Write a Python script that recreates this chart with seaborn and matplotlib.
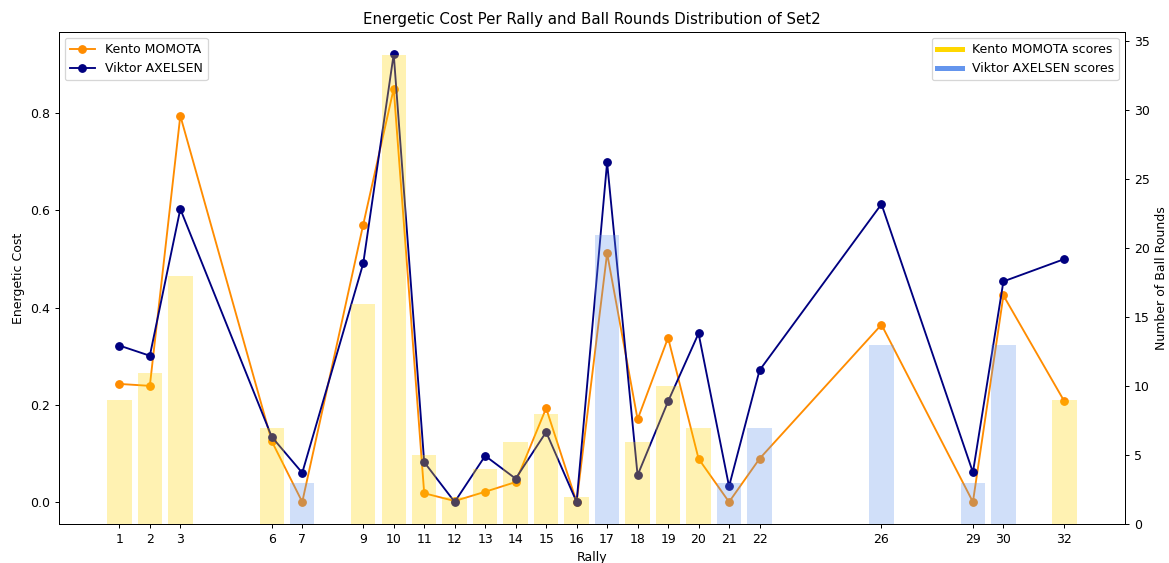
import matplotlib
matplotlib.use("Agg")
import matplotlib.pyplot as plt
from matplotlib.lines import Line2D
import seaborn as sns
import pandas as pd

rallies = [1, 2, 3, 6, 7, 9, 10, 11, 12, 13, 14, 15, 16, 17, 18, 19, 20, 21, 22, 26, 29, 30, 32]
kento_cost = [0.243, 0.239, 0.795, 0.125, 0.0, 0.571, 0.851, 0.018, 0.002, 0.021, 0.041, 0.193,
              0.0, 0.512, 0.170, 0.338, 0.089, 0.0, 0.089, 0.365, 0.0, 0.425, 0.207]
viktor_cost = [0.322, 0.301, 0.603, 0.134, 0.060, 0.491, 0.922, 0.082, 0.0, 0.095, 0.048, 0.144,
               0.0, 0.699, 0.055, 0.207, 0.347, 0.032, 0.271, 0.613, 0.061, 0.454, 0.500]
ball_rounds = [9, 11, 18, 7, 3, 16, 34, 5, 2, 4, 6, 8, 2, 21, 6, 10, 7, 3, 7, 13, 3, 13, 9]
scorer = ["Kento", "Kento", "Kento", "Kento", "Viktor", "Kento", "Kento", "Kento", "Kento", "Kento",
          "Kento", "Kento", "Kento", "Viktor", "Kento", "Kento", "Kento", "Viktor", "Viktor", "Viktor",
          "Viktor", "Viktor", "Kento"]

df = pd.DataFrame({"Rally": rallies, "Kento": kento_cost, "Viktor": viktor_cost,
                   "Rounds": ball_rounds, "Scorer": scorer})

DPI = 90
fig = plt.figure(figsize=(1169 / DPI, 563 / DPI), dpi=DPI)
ax1 = fig.add_axes([0.0502, 0.0687, 0.9122, 0.875])
ax2 = ax1.twinx()

sns.lineplot(data=df, x="Rally", y="Kento", marker="o", color="darkorange",
             markeredgecolor="darkorange", markeredgewidth=1, markersize=6,
             label="Kento MOMOTA", ax=ax1)
sns.lineplot(data=df, x="Rally", y="Viktor", marker="o", color="navy",
             markeredgecolor="navy", markeredgewidth=1, markersize=6,
             label="Viktor AXELSEN", ax=ax1)

sns.barplot(data=df, x="Rally", y="Rounds", hue="Scorer", native_scale=True, dodge=False,
            palette={"Kento": "gold", "Viktor": "cornflowerblue"}, alpha=0.3, saturation=1,
            errorbar=None, legend=False, ax=ax2, width=0.8)

ax1.set_xticks(rallies)
ax1.set_xticklabels([str(r) for r in rallies])
ax1.set_xlim(-0.99, 33.99)
ax1.set_ylim(-0.046, 0.968)
ax2.set_ylim(0, 35.7)
ax1.set_xlabel("Rally")
ax1.set_ylabel("Energetic Cost")
ax2.set_ylabel("Number of Ball Rounds")
ax1.set_title("Energetic Cost Per Rally and Ball Rounds Distribution of Set2")

ax1.legend(loc="upper left")
handles = [Line2D([0], [0], color="gold", lw=4), Line2D([0], [0], color="cornflowerblue", lw=4)]
ax2.legend(handles, ["Kento MOMOTA scores", "Viktor AXELSEN scores"], loc="upper right")

fig.savefig("out.png", dpi=DPI)
